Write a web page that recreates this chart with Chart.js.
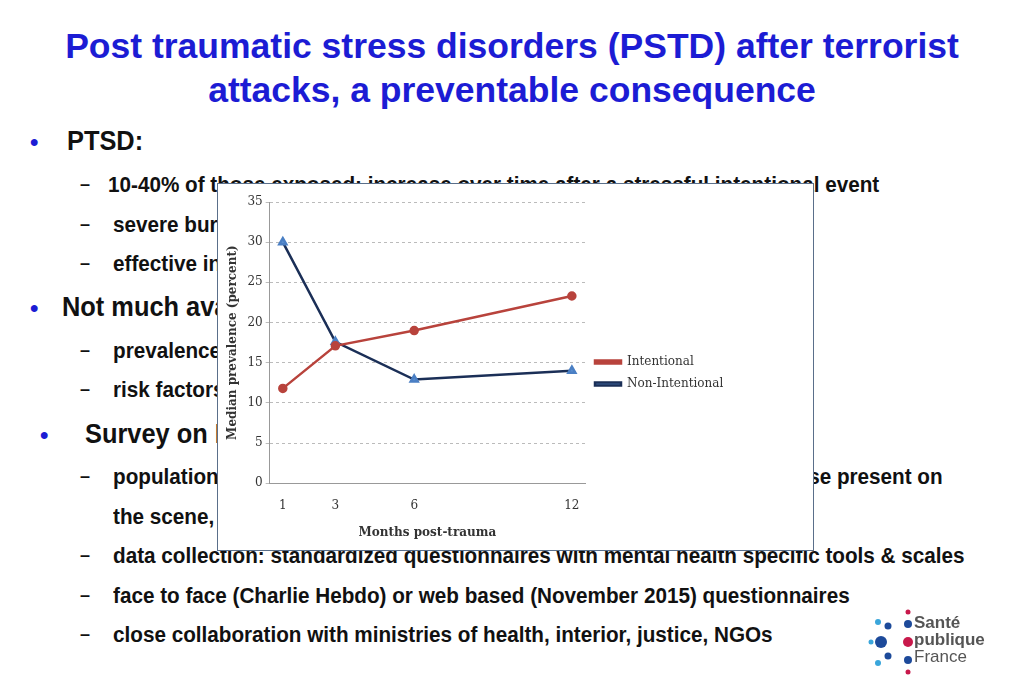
<!DOCTYPE html>
<html>
<head>
<meta charset="utf-8">
<script src="https://cdn.jsdelivr.net/npm/chart.js@4.4.0/dist/chart.umd.min.js"></script>
<style>
  body { margin: 0; width: 1024px; height: 683px; background: #fff; position: relative; overflow: hidden;
         font-family: "Liberation Sans", Arial, sans-serif; }
  .title { position: absolute; left: 0; width: 1024px; top: 24px; text-align: center; color: #1c1cd4;
           font: bold 35.5px "Liberation Sans", Arial, sans-serif; line-height: 44px; }
  .t { position: absolute; font-weight: bold; color: #111; white-space: nowrap; transform-origin: left top; transform: scaleX(0.94); }
  .l1 { font-size: 27px; }
  .l2 { font-size: 22px; }
  .dot { position: absolute; color: #1c1cd4; font-size: 24px; font-weight: bold; }
  .dash { position: absolute; color: #111; font-size: 18px; font-weight: bold; }
  #box { position: absolute; left: 217px; top: 183px; width: 595px; height: 366px; background: #fff;
         border: 1px solid #5a6f8a; }
  .logo { position: absolute; left: 914px; top: 614px; font: bold 17px "Liberation Sans", Arial, sans-serif; color: #555; line-height: 17px; }
</style>
</head>
<body>
<div class="title">Post traumatic stress disorders (PSTD) after terrorist<br>attacks, a preventable consequence</div>

<div class="dot" style="left:30px;top:128px">•</div><div class="t l1" style="left:67px;top:126px">PTSD:</div>
<div class="dash" style="left:80px;top:174px">–</div><div class="t l2" style="left:108px;top:172px">10-40% of those exposed; increase over time after a stressful intentional event</div>
<div class="dash" style="left:80px;top:214px">–</div><div class="t l2" style="left:113px;top:212px">severe burden for individuals and society</div>
<div class="dash" style="left:80px;top:253px">–</div><div class="t l2" style="left:113px;top:251px">effective interventions exist</div>
<div class="dot" style="left:30px;top:294px">•</div><div class="t l1" style="left:62px;top:292px">Not much available data in France</div>
<div class="dash" style="left:80px;top:340px">–</div><div class="t l2" style="left:113px;top:338px">prevalence</div>
<div class="dash" style="left:80px;top:379px">–</div><div class="t l2" style="left:113px;top:377px">risk factors</div>
<div class="dot" style="left:40px;top:421px">•</div><div class="t l1" style="left:85px;top:419px">Survey on PTSD after terrorist attacks</div>
<div class="dash" style="left:80px;top:466px">–</div><div class="t l2" style="left:113px;top:464px">population: civilians, first responders, all those exposed, including those present on</div>
<div class="t l2" style="left:113px;top:504px">the scene, witnesses, relatives</div>
<div class="dash" style="left:80px;top:545px">–</div><div class="t l2" style="left:113px;top:543px">data collection: standardized questionnaires with mental health specific tools &amp; scales</div>
<div class="dash" style="left:80px;top:585px">–</div><div class="t l2" style="left:113px;top:583px">face to face (Charlie Hebdo) or web based (November 2015) questionnaires</div>
<div class="dash" style="left:80px;top:624px">–</div><div class="t l2" style="left:113px;top:622px">close collaboration with ministries of health, interior, justice, NGOs</div>

<div id="box"><canvas id="chart" width="595" height="366"></canvas></div>

<canvas id="dots" width="50" height="70" style="position:absolute;left:866px;top:608px"></canvas>
<div class="logo">Santé<br>publique<br><span style="font-weight:normal">France</span></div>

<script>
// values
const months = [1, 3, 6, 12];
const intentional = [11.8, 17.1, 19.0, 23.3];
const nonIntentional = [30.0, 17.6, 12.9, 14.0];
const yTicks = [0, 5, 10, 15, 20, 25, 30, 35];

const serif = "'DejaVu Serif', 'Liberation Serif', serif";

function toPoints(values) {
    return months.map((m, i) => ({ x: m, y: values[i] }));
}

new Chart(document.getElementById("chart"), {
    type: "line",
    data: {
        datasets: [{
            label: "Intentional",
            data: toPoints(intentional),
            borderColor: "#b8433c",
            backgroundColor: "#b8433c",
            borderWidth: 2.5,
            pointStyle: "circle",
            pointRadius: 3.5
        }, {
            label: "Non-Intentional",
            data: toPoints(nonIntentional),
            borderColor: "#1b2f57",
            backgroundColor: "#5b8fd0",
            pointBorderColor: "#4a7fc4",
            borderWidth: 2.5,
            pointStyle: "triangle",
            pointRadius: 4
        }]
    },
    options: {
        responsive: false,
        animation: false,
        layout: { padding: { left: 4, top: 18, right: 6, bottom: 6 } },
        plugins: {
            tooltip: { enabled: false },
            legend: {
                position: "right",
                labels: {
                    boxWidth: 26, boxHeight: 3, color: "#333",
                    font: { family: serif, size: 12 },
                    padding: 10
                }
            }
        },
        scales: {
            x: {
                type: "linear", min: 0.5, max: 12.5,
                afterBuildTicks: axis => { axis.ticks = months.map(v => ({ value: v })); },
                grid: { display: false },
                border: { color: "#999" },
                ticks: { color: "#333", font: { family: serif, size: 12 }, padding: 7 },
                title: { display: true, text: "Months post-trauma", color: "#333",
                         font: { family: serif, size: 12, weight: "bold" }, padding: { top: 6 } }
            },
            y: {
                min: 0, max: 35,
                afterBuildTicks: axis => { axis.ticks = yTicks.map(v => ({ value: v })); },
                grid: { color: "#bbb", drawTicks: true, tickLength: 4 },
                border: { color: "#999", dash: [3, 3] },
                ticks: { color: "#333", font: { family: serif, size: 12 } },
                title: { display: true, text: "Median prevalence (percent)", color: "#333",
                         font: { family: serif, size: 12, weight: "bold" } }
            }
        }
    },
    plugins: [{
        id: "legendWidth",
        beforeInit(chart) {
            const fit = chart.legend.fit;
            chart.legend.fit = function () {
                fit.call(this);
                this.width = 222;
            };
        }
    }]
});

// small dot mark next to the logo text
const d = document.getElementById("dots").getContext("2d");
[[42, 4, 2.5, "#c8194b"], [42, 16, 4, "#1d4a9a"], [42, 34, 5, "#c8194b"], [42, 52, 4, "#1d4a9a"], [42, 64, 2.5, "#c8194b"],
 [22, 18, 3.5, "#1d4a9a"], [22, 48, 3.5, "#1d4a9a"], [15, 34, 6, "#1d4a9a"], [5, 34, 2.5, "#3aa6db"],
 [12, 14, 3, "#3aa6db"], [12, 55, 3, "#3aa6db"]].forEach(([x, y, r, c]) => {
    d.beginPath(); d.arc(x, y, r, 0, Math.PI * 2); d.fillStyle = c; d.fill();
});
</script>
</body>
</html>
